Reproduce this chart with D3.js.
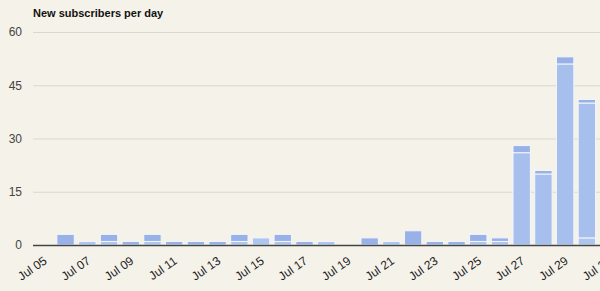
<!DOCTYPE html>
<html>
<head>
<meta charset="utf-8">
<script src="https://cdn.jsdelivr.net/npm/d3@7"></script>
<style>
    html, body { margin: 0; padding: 0; background: #f5f2ea; overflow: hidden; }
    .chart { width: 600px; height: 291px; }
    text { font-family: 'Liberation Sans', Arial, sans-serif; }
</style>
</head>
<body>
<div class="chart"></div>
<script>
// days shown on the x axis
const days = ['Jul 05', 'Jul 06', 'Jul 07', 'Jul 08', 'Jul 09', 'Jul 10', 'Jul 11', 'Jul 12', 'Jul 13',
    'Jul 14', 'Jul 15', 'Jul 16', 'Jul 17', 'Jul 18', 'Jul 19', 'Jul 20', 'Jul 21', 'Jul 22', 'Jul 23',
    'Jul 24', 'Jul 25', 'Jul 26', 'Jul 27', 'Jul 28', 'Jul 29', 'Jul 30', 'Jul 31'];

// stacked pieces, bottom to top
const bottomPart = [0, 0, 1, 1, 0, 1, 0, 0, 0, 1, 2, 1, 0, 1, 0, 0, 1, 0, 0, 0, 1, 1, 0, 0, 0, 2, 0];
const middlePart = [0, 0, 0, 0, 0, 0, 0, 0, 0, 0, 0, 0, 0, 0, 0, 0, 0, 0, 0, 0, 0, 0, 26, 20, 51, 38, 0];
const topPart    = [0, 3, 0, 2, 1, 2, 1, 1, 1, 2, 0, 2, 1, 0, 0, 2, 0, 4, 1, 1, 2, 1, 2, 1, 2, 1, 0];

const yTicks = [0, 15, 30, 45, 60];
const title = 'New subscribers per day';

(function () {
    let margin = {top: 32, left: 33};
    let bandStep = 21.72;
    let plotH = 213;

    let svg = d3.select('.chart').append('svg')
        .attr('width', 600)
        .attr('height', 291);

    let x = d3.scaleBand()
        .domain(days)
        .range([margin.left, margin.left + bandStep * days.length])
        .paddingInner(0.2)
        .paddingOuter(0.1);

    let y = d3.scaleLinear()
        .domain([0, 60])
        .range([margin.top + plotH, margin.top]);

    // grid + y labels
    let yAxis = d3.axisLeft(y)
        .tickValues(yTicks)
        .tickSize(-(600 - margin.left))
        .tickPadding(11);

    let gY = svg.append('g')
        .attr('transform', 'translate(' + margin.left + ',0)')
        .call(yAxis);
    gY.select('.domain').remove();
    gY.selectAll('line').attr('stroke', '#d9d7d1');
    gY.selectAll('text')
        .attr('fill', '#444')
        .style('font-size', '12px');

    // stacked bars
    let rows = days.map(function (d, i) {
        return {day: d, bottom: bottomPart[i], middle: middlePart[i], top: topPart[i]};
    });
    let stack = d3.stack().keys(['bottom', 'middle', 'top']);
    let colors = {bottom: '#adc6f0', middle: '#a7bfed', top: '#98b1e6'};

    svg.append('g')
        .selectAll('g')
        .data(stack(rows))
        .enter()
        .append('g')
        .attr('fill', function (s) { return colors[s.key]; })
        .selectAll('rect')
        .data(function (s) { return s.filter(function (p) { return p[1] > p[0]; }); })
        .enter()
        .append('rect')
        .attr('x', function (p) { return x(p.data.day); })
        .attr('width', x.bandwidth())
        .attr('y', function (p) { return y(p[1]); })
        .attr('height', function (p) { return y(p[0]) - y(p[1]); })
        .attr('stroke', '#f4f6fb')
        .attr('stroke-width', 1);

    // baseline
    svg.append('line')
        .attr('x1', margin.left)
        .attr('x2', 600)
        .attr('y1', y(0) + 0.5)
        .attr('y2', y(0) + 0.5)
        .attr('stroke', '#444')
        .attr('stroke-width', 1.3);

    // x labels every second day
    let xAxis = d3.axisBottom(x)
        .tickValues(days.filter(function (d, i) { return i % 2 === 0; }))
        .tickSize(0)
        .tickPadding(0);

    let gX = svg.append('g')
        .attr('transform', 'translate(0,' + (y(0) + 10) + ')')
        .call(xAxis);
    gX.select('.domain').remove();
    gX.selectAll('text')
        .attr('fill', '#222')
        .style('font-size', '12px')
        .attr('text-anchor', 'end')
        .attr('dy', '0.7em')
        .attr('dx', '-0.1em')
        .attr('transform', 'rotate(-35)');

    svg.append('text')
        .attr('x', 33)
        .attr('y', 17)
        .attr('font-weight', 'bold')
        .style('font-size', '11px')
        .attr('fill', '#111')
        .text(title);
})();
</script>
</body>
</html>
